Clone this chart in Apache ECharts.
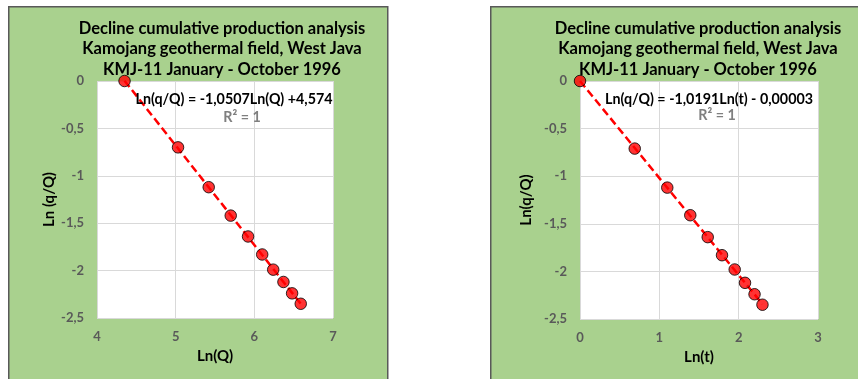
<!DOCTYPE html>
<html>
<head>
<meta charset="utf-8">
<script src="https://cdn.jsdelivr.net/npm/echarts@6/dist/echarts.min.js"></script>
<style>html,body{margin:0;padding:0;background:#fff;}#c{width:858px;height:379px;}</style>
</head>
<body>
<div id="c"></div>
<script>
// Data
var lnQ = [4.35, 5.03, 5.42, 5.70, 5.92, 6.10, 6.24, 6.37, 6.48, 6.59];
var lnQQ_left = [0, -0.70, -1.12, -1.42, -1.64, -1.83, -1.99, -2.12, -2.24, -2.35];
var lnT = [0, 0.69, 1.10, 1.39, 1.61, 1.79, 1.95, 2.08, 2.20, 2.30];
var lnQQ_right = [0, -0.71, -1.12, -1.41, -1.64, -1.83, -1.98, -2.12, -2.24, -2.35];
var leftFit = [-1.0507, 4.574];   // slope, intercept
var rightFit = [-1.0191, -0.00003];
var titleLines = ["Decline cumulative production analysis", "Kamojang geothermal field, West Java", "KMJ-11 January - October 1996"];
var leftEq = "Ln(q/Q) = -1,0507Ln(Q) +4,574";
var rightEq = "Ln(q/Q) = -1,0191Ln(t) - 0,00003";
var r2Text = "R² = 1";
var xTicksLeft = [4, 7, 1];
var xTicksRight = [0, 3, 1];
var yTicks = [-2.5, 0, 0.5];

function pairs(xs, ys) { return xs.map(function (x, i) { return [x, ys[i]]; }); }
function fitLine(xs, fit) {
  var a = Math.min.apply(null, xs), b = Math.max.apply(null, xs);
  return [[a, fit[0] * a + fit[1]], [b, fit[0] * b + fit[1]]];
}
var FONT = "Lato";
var comma = function (v) { return String(v).replace('.', ','); };

function xAxis(idx, t, name) {
  return {
    gridIndex: idx, type: 'value', min: t[0], max: t[1], interval: t[2],
    name: name, nameLocation: 'middle', nameGap: 31,
    nameTextStyle: { fontFamily: FONT, fontWeight: 'bold', fontSize: 15, color: '#000' },
    axisLine: { show: false }, axisTick: { show: false },
    axisLabel: { fontFamily: FONT, fontWeight: 'bold', fontSize: 13, color: '#595959', margin: 12, formatter: comma },
    splitLine: { show: true, lineStyle: { color: '#D9D9D9', width: 1 } }
  };
}
function yAxis(idx, name, gap) {
  return {
    gridIndex: idx, type: 'value', min: yTicks[0], max: yTicks[1], interval: yTicks[2],
    name: name, nameLocation: 'middle', nameGap: gap, nameRotate: 90,
    nameTextStyle: { fontFamily: FONT, fontWeight: 'bold', fontSize: 15, color: '#000' },
    axisLine: { show: false }, axisTick: { show: false },
    axisLabel: { fontFamily: FONT, fontWeight: 'bold', fontSize: 13, color: '#595959', margin: 13, formatter: comma },
    splitLine: { show: true, lineStyle: { color: '#D9D9D9', width: 1 } }
  };
}
function scatter(idx, data) {
  return {
    type: 'scatter', xAxisIndex: idx, yAxisIndex: idx, data: data, symbolSize: 11.5, z: 5,
    itemStyle: { color: '#FF0000', borderColor: '#000', borderWidth: 1 }
  };
}
function trend(idx, data) {
  return {
    type: 'line', xAxisIndex: idx, yAxisIndex: idx, data: data, symbol: 'none', z: 4,
    lineStyle: { color: '#FF0000', width: 2.5, type: [8, 4] }
  };
}
function titleTxt(x) {
  return {
    text: titleLines.join('\n'), left: x, top: 13, textAlign: 'center',
    textStyle: { fontFamily: FONT, fontWeight: 'bold', fontSize: 16.5, lineHeight: 20.5, color: '#000' }
  };
}
function panel(x, w) {
  return { type: 'rect', left: x, top: 6, shape: { width: w, height: 380 }, z: -10,
    style: { fill: '#A9D18E', stroke: '#595959', lineWidth: 1.5 } };
}
function txt(x, y, s, size, color) {
  return { type: 'text', x: x, y: y, z: 10,
    style: { text: s, fill: color, font: 'bold ' + size + 'px ' + FONT, textAlign: 'center', textVerticalAlign: 'middle' } };
}

var chart = echarts.init(document.getElementById('c'), null, { renderer: 'canvas' });
chart.setOption({
  backgroundColor: '#fff',
  animation: false,
  title: [titleTxt(217), titleTxt(693)],
  grid: [
    { left: 97, top: 81, width: 236, height: 237, backgroundColor: '#fff', show: true, borderWidth: 0 },
    { left: 580, top: 81, width: 238, height: 238, backgroundColor: '#fff', show: true, borderWidth: 0 }
  ],
  xAxis: [xAxis(0, xTicksLeft, 'Ln(Q)'), xAxis(1, xTicksRight, 'Ln(t)')],
  yAxis: [yAxis(0, 'Ln (q/Q)', 40), yAxis(1, 'Ln(q/Q)', 46)],
  series: [
    trend(0, fitLine(lnQ, leftFit)),
    scatter(0, pairs(lnQ, lnQQ_left)),
    trend(1, fitLine(lnT, rightFit)),
    scatter(1, pairs(lnT, lnQQ_right))
  ],
  graphic: [
    panel(8, 379),
    panel(490, 380),
    txt(234, 99, leftEq, 14.3, '#000'),
    txt(242, 117, r2Text, 14.3, '#7F7F7F'),
    txt(709, 99, rightEq, 14.3, '#000'),
    txt(717, 115, r2Text, 14.3, '#7F7F7F')
  ]
});
</script>
</body>
</html>
